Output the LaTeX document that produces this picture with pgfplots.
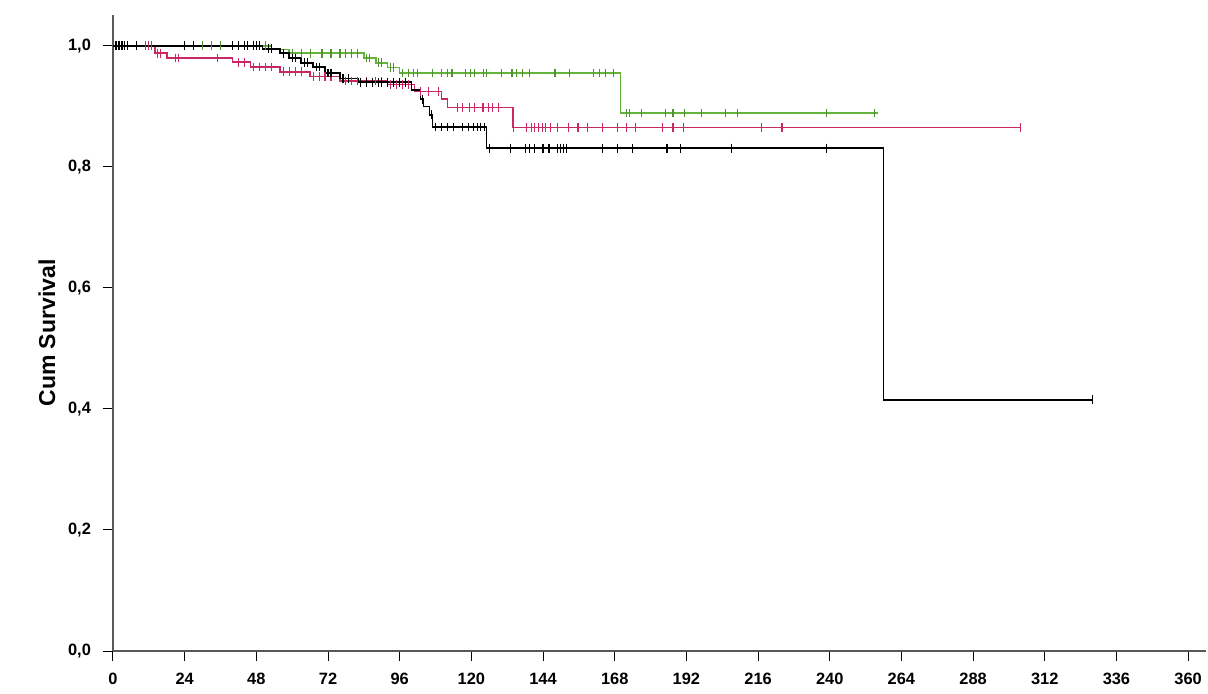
\documentclass[border=0pt]{standalone}
\usepackage{fontspec}
\setmainfont{Liberation Sans}
\usepackage{pgfplots}
\pgfplotsset{compat=1.18}
\definecolor{kmgreen}{RGB}{100,180,60}
\definecolor{kmred}{RGB}{200,40,100}
\begin{document}
\begin{tikzpicture}
\begin{axis}[
  at={(0,0)}, anchor=south west,
  scale only axis, width=546.5pt, height=318pt,
  xmin=0, xmax=366, ymin=0, ymax=1.051,
  axis x line*=bottom, axis y line*=left,
  xtick={0,24,...,360},
  ytick={0,0.2,0.4,0.6,0.8,1.0},
  yticklabels={{0,0},{0,2},{0,4},{0,6},{0,8},{1,0}},
  tick align=outside, major tick length=5pt,
  tick style={black, line width=0.5pt},
  axis line style={black!65, line width=0.7pt},
  ticklabel style={font=\bfseries\fontsize{8.2}{9}\selectfont},
  xticklabel style={yshift=-5pt, inner sep=1pt},
  yticklabel style={xshift=-2.5pt},
  /pgf/number format/assume math mode=true,
  ylabel={Cum Survival},
  ylabel style={font=\bfseries\fontsize{11.5}{13}\selectfont, at={(axis description cs:0,0.5)}, anchor=center, yshift=33pt},
  clip=false,
]
% green group
\addplot[const plot, kmgreen, line width=0.75pt] coordinates {
(0,1)(53,0.994)(59,0.988)(84,0.980)(88,0.972)(92,0.964)(96,0.955)(170,0.889)(256,0.889)};
\addplot[only marks, mark=|, mark size=2.2pt, kmgreen!80!black, mark options={line width=0.55pt}] coordinates {
(30,1)(33,1)(36,1)(40,1)(44,1)(48,1)(51,1)
(60,0.988)(63,0.988)(66,0.988)(70,0.988)(73,0.988)(76,0.988)(78,0.988)(80,0.988)(82,0.988)
(85,0.980)(86,0.980)(89,0.972)(90,0.972)(93,0.964)(94,0.964)
(97,0.955)(98.8,0.955)(100.5,0.955)(102,0.955)(107,0.955)(110,0.955)(112,0.955)(113.5,0.955)(118,0.955)(119.6,0.955)(121,0.955)(124,0.955)(125,0.955)(130,0.955)(133.6,0.955)(135,0.955)(137,0.955)(139.6,0.955)(148,0.955)(153,0.955)(161,0.955)(163,0.955)(165,0.955)(167.5,0.955)
(172,0.889)(173,0.889)(177,0.889)(185,0.889)(187.5,0.889)(191.5,0.889)(197,0.889)(205,0.889)(209,0.889)(239,0.889)(255,0.889)};
% red group
\addplot[const plot, kmred, line width=0.75pt] coordinates {
(0,1)(14,0.988)(18,0.980)(40,0.973)(46,0.965)(56,0.957)(66,0.949)(76,0.942)(92,0.936)(101,0.925)(110,0.912)(112,0.898)(134,0.865)(304,0.865)};
\addplot[only marks, mark=|, mark size=2.2pt, kmred, mark options={line width=0.55pt}] coordinates {
(11,1)(12,1)(13,1)(15,0.988)(16,0.988)(21,0.980)(22,0.980)(35,0.980)
(42,0.973)(44,0.973)(47,0.965)(49,0.965)(51,0.965)(53,0.965)
(57,0.957)(59,0.957)(61,0.957)(63,0.957)(67,0.949)(69,0.949)(71,0.949)(73,0.949)
(78,0.942)(80,0.942)(82,0.942)(85,0.942)(88,0.942)(90,0.942)
(93,0.936)(95,0.936)(97,0.936)(99,0.936)(103,0.925)(105.5,0.925)(109,0.925)
(115.5,0.898)(117,0.898)(119.5,0.898)(121,0.898)(123.6,0.898)(124,0.898)(125.6,0.898)(127,0.898)(129,0.898)
(134,0.865)(138.5,0.865)(140,0.865)(141,0.865)(142.5,0.865)(143.7,0.865)(144.7,0.865)(146.5,0.865)(148.7,0.865)(152.4,0.865)(155.7,0.865)(159,0.865)(164,0.865)(169,0.865)(172,0.865)(175,0.865)(184,0.865)(187.5,0.865)(191,0.865)(217,0.865)(224,0.865)(304,0.865)};
% black group
\addplot[const plot, black, line width=0.75pt] coordinates {
(0,1)(50,0.995)(56,0.988)(59,0.980)(63,0.972)(67,0.965)(71,0.955)(76,0.946)(82,0.940)(100,0.927)(103,0.912)(104,0.900)(106,0.886)(107,0.866)(125,0.831)(258,0.415)(328,0.415)};
\addplot[only marks, mark=|, mark size=2.2pt, black, mark options={line width=0.55pt}] coordinates {
(1,1)(2,1)(3,1)(4,1)(5,1)(8,1)(24,1)(27,1)(40,1)(42,1)(44,1)(45,1)(47,1)(48,1)(49,1)
(52,0.995)(53,0.995)(57,0.988)(60,0.980)(61,0.980)(64,0.972)(65,0.972)(68,0.965)(69,0.965)(72,0.955)(73,0.955)(77,0.946)(79,0.946)
(83,0.940)(85,0.940)(87,0.940)(89,0.940)(90,0.940)(92,0.940)(94,0.940)(96,0.940)(98,0.940)
(103.5,0.912)(106.5,0.886)
(108,0.866)(110,0.866)(112,0.866)(114,0.866)(117,0.866)(119,0.866)(120.7,0.866)(122,0.866)(123,0.866)(124.5,0.866)
(126,0.831)(133,0.831)(138,0.831)(139.6,0.831)(141,0.831)(144,0.831)(146,0.831)(148.7,0.831)(149.7,0.831)(151,0.831)(152,0.831)(164,0.831)(169,0.831)(174,0.831)(185.5,0.831)(190,0.831)(207,0.831)(239,0.831)
(328,0.415)};
\end{axis}
\pgfresetboundingbox
\path (-56.5pt,-21pt) rectangle (547.5pt,325.5pt);
\end{tikzpicture}
\end{document}
